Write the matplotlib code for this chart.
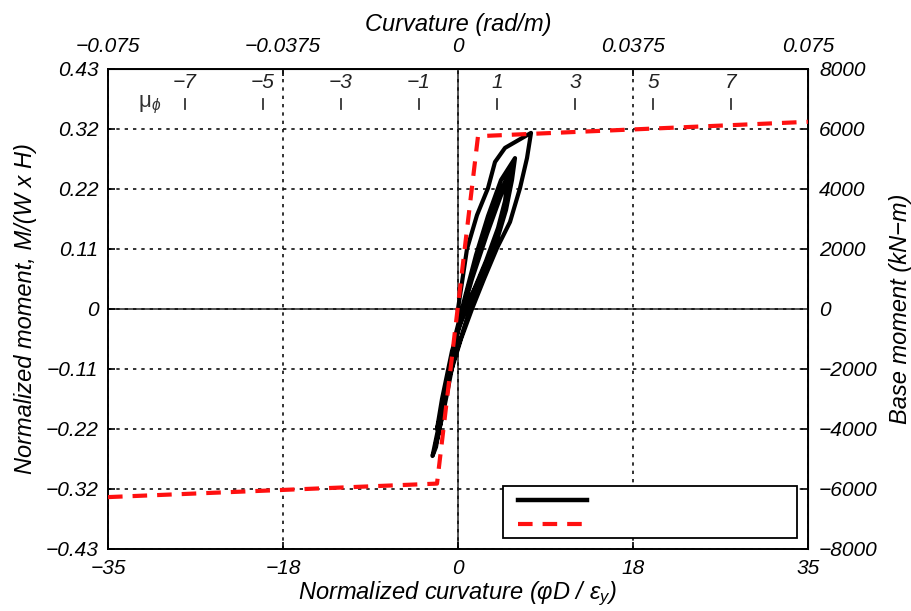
import matplotlib
matplotlib.use("Agg")
import matplotlib.pyplot as plt
import matplotlib.transforms as mtransforms
from matplotlib.patches import Rectangle

plt.rcParams['font.family'] = ['Liberation Sans', 'DejaVu Sans']
plt.rcParams['font.style'] = 'italic'
plt.rcParams['mathtext.fontset'] = 'custom'
plt.rcParams['mathtext.it'] = 'Liberation Sans:italic'
plt.rcParams['mathtext.rm'] = 'Liberation Sans:italic'
plt.rcParams['axes.unicode_minus'] = True

# ---- axes scales and tick labels ----
curv_limits = (-35, 35)
moment_limits = (-8000, 8000)
bottom_ticks = [-35, -17.5, 0, 17.5, 35]
bottom_tick_labels = ["−35", "−18", "0", "18", "35"]
top_ticks = [-0.075, -0.0375, 0.0, 0.0375, 0.075]
top_tick_labels = ["−0.075", "−0.0375", "0", "0.0375", "0.075"]
rad_per_m_at_limit = 0.075          # curvature (rad/m) at normalized curvature 35
moment_ticks = [-8000, -6000, -4000, -2000, 0, 2000, 4000, 6000, 8000]
right_tick_labels = ["−8000", "−6000", "−4000", "−2000", "0",
                     "2000", "4000", "6000", "8000"]
left_tick_labels = ["−0.43", "−0.32", "−0.22", "−0.11", "0",
                    "0.11", "0.22", "0.32", "0.43"]

# curvature ductility scale drawn inside the frame
mu_values = [-7, -5, -3, -1, 1, 3, 5, 7]
mu_labels = ["−7", "−5", "−3", "−1", "1", "3", "5", "7"]
yield_curv = 3.9                    # normalized curvature at mu_phi = 1

# bilinear idealisation (normalized curvature, kN-m)
bilinear_curv = [-35, -2.1, 2.0, 35]
bilinear_moment = [-6270, -5820, 5760, 6240]

# measured hysteresis response (normalized curvature, kN-m)
hyst_curv = [0.0, 0.9, 1.9, 3.0, 3.7, 4.7, 7.3,
             6.9, 6.2, 5.2, 3.9, 2.6, 1.4, 0.3, -0.9, -1.8, -2.55,
             -2.2, -1.5, -0.8, -0.2, 0.7, 1.8, 3.0, 4.3, 5.7,
             5.4, 4.8, 3.9, 2.5, 1.0, -0.5, -1.5, -2.3,
             -1.9, -1.0, -0.1, 1.1, 2.6, 4.0, 5.3,
             5.0, 4.4, 3.4, 2.0, 0.6, -0.6, -1.6, -2.1,
             -1.7, -0.8, 0.2, 1.4, 2.9, 4.2, 5.0,
             4.7, 4.0, 2.8, 1.3, 0.2]
hyst_moment = [0, 2000, 3130, 4030, 4900, 5370, 5870,
               5030, 4030, 2900, 2030, 1000, 0, -1000, -2300, -3700, -4900,
               -4600, -3300, -2000, -800, 400, 1800, 3100, 4300, 5030,
               4300, 3300, 2300, 1000, -200, -1800, -3500, -4600,
               -4100, -2400, -800, 800, 2400, 3700, 4700,
               3900, 3000, 2000, 900, -100, -1400, -3000, -4000,
               -3500, -1900, -400, 1000, 2500, 3700, 4400,
               3600, 2700, 1600, 400, -500]

fig = plt.figure(figsize=(9.11, 6.11), dpi=100)
ax = fig.add_axes([108 / 911, 62 / 611, 700 / 911, 480 / 611])

ax.set_xlim(*curv_limits)
ax.set_ylim(*moment_limits)

# grid and zero lines
ax.set_xticks(bottom_ticks)
ax.set_xticklabels(bottom_tick_labels)
ax.set_yticks(moment_ticks)
ax.set_yticklabels(left_tick_labels)
ax.grid(True, linestyle=(0, (2.0, 3.0)), color='#111111', linewidth=1.2, zorder=0)
ax.axhline(0, color='#555555', linewidth=1.4, zorder=1)
ax.axvline(0, color='#555555', linewidth=1.4, zorder=1)

# curves
ax.plot(hyst_curv, hyst_moment, color='black', linewidth=3.0,
        solid_joinstyle='round', zorder=3)
ax.plot(bilinear_curv, bilinear_moment, color='#ff1010', linewidth=3.0,
        linestyle=(0, (3.5, 2.4)), zorder=4)

# ductility scale
trans = mtransforms.blended_transform_factory(ax.transData, ax.transAxes)
for mu, lab in zip(mu_values, mu_labels):
    xpos = mu * yield_curv
    ax.plot([xpos, xpos], [0.917, 0.9375], color='#333333', linewidth=1.3,
            transform=trans, zorder=2)
    ax.text(xpos, 0.972, lab, transform=trans, ha='center', va='center',
            fontsize=15, color='#222222')
ax.text(-30.8, 0.926, r"μ$_{\phi}$", transform=trans, ha='center', va='center',
        fontsize=16, color='#333333', fontstyle='normal')

for s in ax.spines.values():
    s.set_linewidth(1.4)
ax.tick_params(direction='in', length=5, width=1.2, labelsize=15,
               top=False, right=False)
ax.tick_params(axis='y', pad=7)
ax.tick_params(axis='x', pad=7)

# top axis: curvature in rad/m
top = ax.secondary_xaxis(
    'top',
    functions=(lambda x: x * rad_per_m_at_limit / 35.0,
               lambda c: c * 35.0 / rad_per_m_at_limit))
top.set_xticks(top_ticks)
top.set_xticklabels(top_tick_labels)
top.tick_params(direction='in', length=5, width=1.2, labelsize=15, pad=9)
top.set_xlabel("Curvature (rad/m)", fontsize=17, labelpad=5)

# right axis: base moment in kN-m
right = ax.secondary_yaxis('right', functions=(lambda y: y, lambda y: y))
right.set_yticks(moment_ticks)
right.set_yticklabels(right_tick_labels)
right.tick_params(direction='in', length=5, width=1.2, labelsize=15, pad=8)
right.set_ylabel("Base moment (kN−m)", fontsize=17, labelpad=8)

ax.set_xlabel("Normalized curvature (φD / ε$_y$)", fontsize=17, labelpad=1)
ax.set_ylabel("Normalized moment, M/(W x H)", fontsize=17, labelpad=6)

# key box with line samples only (axes coordinates)
ax.add_patch(Rectangle((0.5643, 0.0229), 0.42, 0.1084, transform=ax.transAxes,
                       facecolor='white', edgecolor='black', linewidth=1.3,
                       zorder=5))
ax.plot([0.5857, 0.6843], [0.102, 0.102], color='black', linewidth=3.2,
        transform=ax.transAxes, zorder=6)
ax.plot([0.5857, 0.6843], [0.052, 0.052], color='#ff1010', linewidth=3.0,
        linestyle=(0, (3.5, 2.4)), transform=ax.transAxes, zorder=6)

fig.savefig("out.png", dpi=100)
